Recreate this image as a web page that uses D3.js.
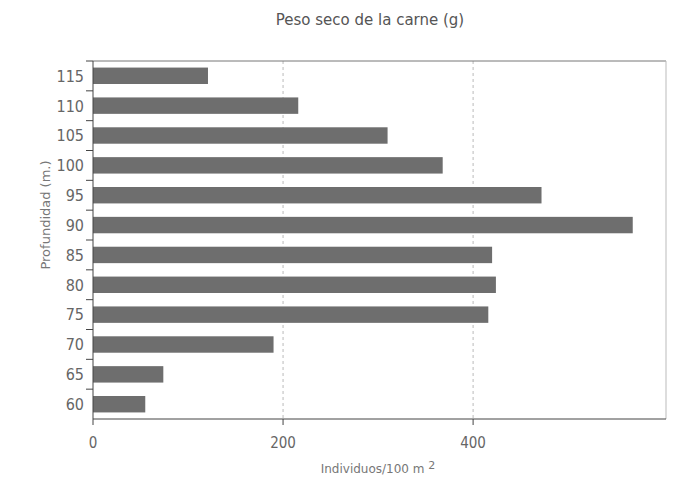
<!DOCTYPE html>
<html><head><meta charset="utf-8">
<script src="https://cdn.jsdelivr.net/npm/d3@7"></script>
<style>body{margin:0;background:#fff}svg{display:block}</style>
</head><body>
<svg id="c" width="687" height="481"></svg>
<script>
const depths = ["60","65","70","75","80","85","90","95","100","105","110","115"];
const values = [55, 74, 190, 416, 424, 420, 568, 472, 368, 310, 216, 121];
const xTicks = [0, 200, 400];
const title = "Peso seco de la carne (g)";
const xLabel = "Individuos/100 m";
const yLabel = "Profundidad (m.)";

const svg = d3.select("#c");
const m = {l:93, r:666, t:61, b:419};
const x = d3.scaleLinear().domain([0, 603]).range([m.l, m.r]);
const y = d3.scaleBand().domain(depths.slice().reverse()).range([m.t, m.b]).paddingInner(0.45).paddingOuter(0.22);
const yb = d3.scaleBand().domain(depths.slice().reverse()).range([m.t, m.b]);
const font = "'Liberation Sans Narrow','DejaVu Sans Condensed',sans-serif";
const tc = "#666";

// grid
svg.selectAll(".g").data(xTicks.filter(d=>d>0)).join("line")
  .attr("x1", d=>x(d)).attr("x2", d=>x(d)).attr("y1", m.t).attr("y2", m.b)
  .attr("stroke", "#bbb").attr("stroke-dasharray", "3,3").attr("stroke-width", 1);

// frame top and right
svg.append("line").attr("x1", m.l).attr("x2", m.r).attr("y1", m.t).attr("y2", m.t).attr("stroke", "#777");
svg.append("line").attr("x1", m.r).attr("x2", m.r).attr("y1", m.t).attr("y2", m.b).attr("stroke", "#bbb");

// bars
svg.selectAll(".bar").data(depths).join("rect")
  .attr("x", x(0)).attr("y", d=>y(d)).attr("height", y.bandwidth())
  .attr("width", (d,i)=>x(values[i]) - x(0)).attr("fill", "#6e6e6e");

// y axis
svg.append("line").attr("x1", m.l).attr("x2", m.l).attr("y1", m.t).attr("y2", m.b).attr("stroke", "#444");
const bounds = depths.map(d=>yb(d));
svg.selectAll(".yt").data(bounds).join("line")
  .attr("x1", m.l-7).attr("x2", m.l).attr("y1", d=>d).attr("y2", d=>d).attr("stroke", "#444");
svg.selectAll(".yl").data(depths).join("text")
  .attr("x", m.l-9).attr("y", d=>yb(d)+yb.bandwidth()/2).attr("dy", "0.36em")
  .attr("text-anchor", "end").attr("font-family", font).attr("font-size", 16).attr("fill", tc).text(d=>d);

// x axis
svg.append("line").attr("x1", m.l).attr("x2", m.r).attr("y1", m.b).attr("y2", m.b).attr("stroke", "#444");
svg.selectAll(".xt").data(xTicks).join("line")
  .attr("x1", d=>x(d)).attr("x2", d=>x(d)).attr("y1", m.b).attr("y2", m.b+6).attr("stroke", "#444");
svg.selectAll(".xl").data(xTicks).join("text")
  .attr("x", d=>x(d)).attr("y", m.b+29).attr("text-anchor", "middle")
  .attr("font-family", font).attr("font-size", 15).attr("fill", tc).text(d=>d);

// labels
svg.append("text").attr("x", 370).attr("y", 25).attr("text-anchor", "middle")
  .attr("font-family", "'DejaVu Sans','Noto Sans',sans-serif").attr("font-size", 15).attr("fill", "#555").text(title);
const xl = svg.append("text").attr("x", 378).attr("y", 473).attr("text-anchor", "middle")
  .attr("font-family", "'DejaVu Sans',sans-serif").attr("font-size", 12).attr("fill", "#777");
xl.append("tspan").text(xLabel + " ");
xl.append("tspan").attr("dy", -4).attr("font-size", 11).text("2");
svg.append("text").attr("transform", "translate(50,215) rotate(-90)").attr("text-anchor", "middle")
  .attr("font-family", "'DejaVu Sans',sans-serif").attr("font-size", 13).attr("fill", "#777").text(yLabel);
</script>
</body></html>
